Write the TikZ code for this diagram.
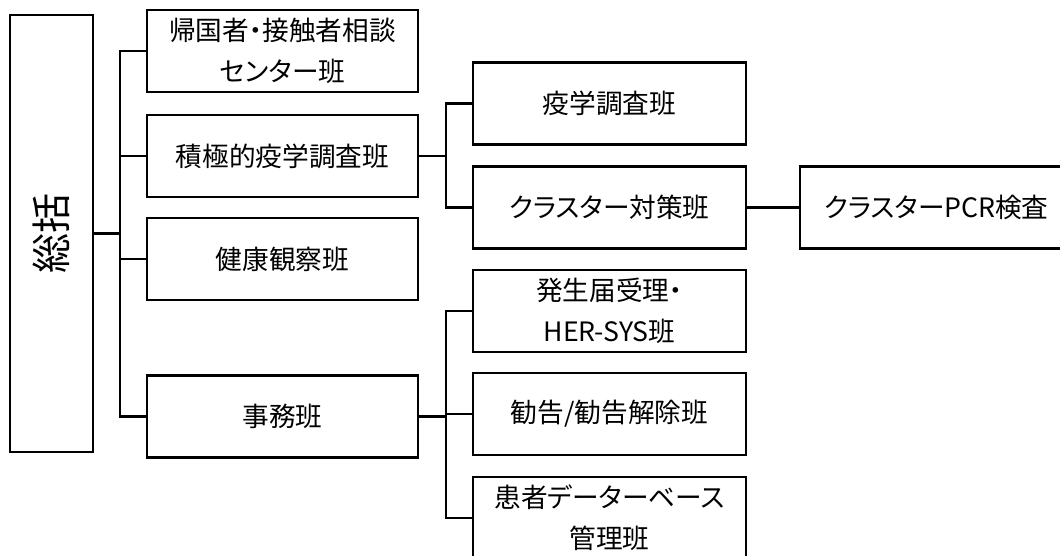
\documentclass[tikz,border=0pt]{standalone}
\usepackage{fontspec}
\setmainfont{Noto Sans CJK JP}[RawFeature=+palt]
\begin{document}
\begin{tikzpicture}[x=0.75pt,y=-0.75pt,
  boxnode/.style={draw=black,line width=2pt,rectangle,minimum width=271*0.75pt,minimum height=82*0.75pt,inner sep=0pt,align=center,font=\fontsize{20}{31}\selectfont},
  wide/.style={minimum width=273*0.75pt},
  link/.style={draw=black,line width=2pt}]
\clip (0,0) rectangle (1060,556);
\fill[white] (0,0) rectangle (1060,556);
% root
\node[draw=black,line width=2pt,minimum width=83*0.75pt,minimum height=437*0.75pt,inner sep=0pt] (root) at (51.5,233.5) {\rotatebox{90}{\fontsize{30}{36}\selectfont 総括}};
% level 1
\node[boxnode] (b1) at (282.5,51) {帰国者・接触者相談\\センター班};
\node[boxnode] (b2) at (282.5,156) {積極的疫学調査班};
\node[boxnode] (b3) at (282.5,259) {健康観察班};
\node[boxnode] (b4) at (282.5,416.5) {事務班};
% level 2
\node[boxnode,wide] (e1) at (609.5,103.5) {疫学調査班};
\node[boxnode,wide] (e2) at (609.5,207.5) {クラスター対策班};
\node[boxnode,wide] (pcr) at (936.5,207.5) {クラスターPCR検査};
\node[boxnode,wide] (f1) at (609.5,311) {発生届受理・\\HER-SYS班};
\node[boxnode,wide] (f2) at (609.5,414) {勧告/勧告解除班};
\node[boxnode,wide] (f3) at (609.5,518) {患者データーベース\\管理班};
% trunk
\coordinate (t) at (120,233.5);
\coordinate (u) at (446,156);
\coordinate (v) at (446,416.5);
\draw[link] (root.east) -- (t);
\draw[link] (b1.west) -| (t) |- (b4.west);
\draw[link] (b2.west) -- (b2.west -| t);
\draw[link] (b3.west) -- (b3.west -| t);
\draw[link] (b2.east) -- (u);
\draw[link] (e1.west) -| (u) |- (e2.west);
\draw[link] (e2.east) -- (pcr.west);
\draw[link] (b4.east) -- (v);
\draw[link] (f1.west) -| (v) |- (f3.west);
\draw[link] (f2.west) -- (f2.west -| v);
\end{tikzpicture}
\end{document}
